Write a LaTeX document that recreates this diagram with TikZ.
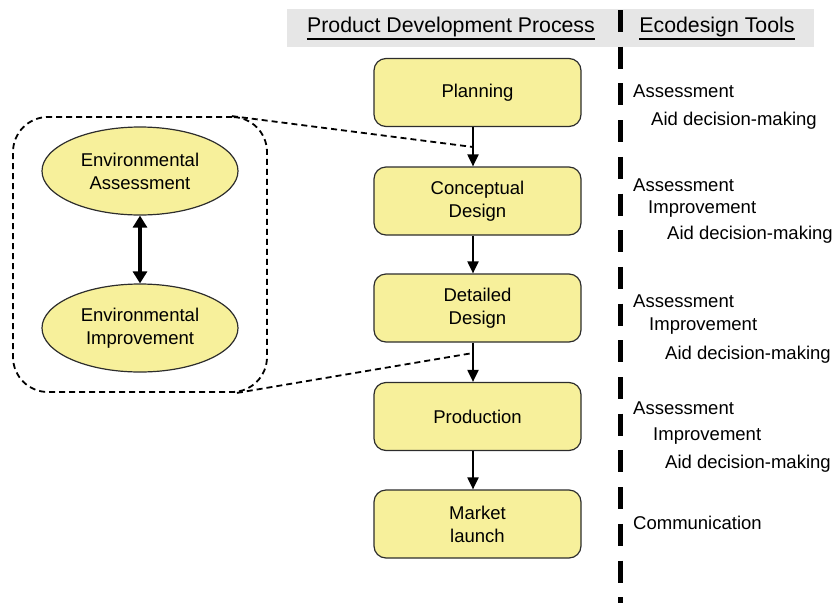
\documentclass[tikz,border=0pt]{standalone}
\usepackage{fontspec}
\setmainfont{Liberation Sans}
\usetikzlibrary{arrows.meta,shapes.geometric}
\definecolor{boxyellow}{RGB}{247,240,155}
\definecolor{bordergray}{RGB}{45,45,45}
\definecolor{headgray}{RGB}{230,230,230}
\newcommand\dgbody{\fontsize{18.5}{23}\selectfont}
\newcommand\dghead{\fontsize{21.3}{24}\selectfont}
\begin{document}
\begin{tikzpicture}[x=1pt,y=-1pt,
  stage/.style={draw=bordergray, line width=1.2pt, fill=boxyellow, rounded corners=12pt,
    minimum width=207pt, minimum height=68pt, align=center, font=\dgbody, inner sep=0pt},
  envnode/.style={ellipse, draw=bordergray, line width=1.2pt, fill=boxyellow,
    minimum width=196pt, minimum height=88pt, inner sep=0pt, align=center, font=\dgbody},
  flow/.style={line width=2pt, -{Triangle[length=12pt,width=11pt]}},
  twoway/.style={line width=4pt, {Triangle[length=12pt,width=14pt]}-{Triangle[length=12pt,width=14pt]}},
  link/.style={line width=1.8pt, dash pattern=on 6pt off 4pt},
  groupbox/.style={draw, line width=1.8pt, dash pattern=on 6pt off 4pt, rounded corners=35pt,
    minimum width=254pt, minimum height=275pt, inner sep=0pt},
  divider/.style={line width=5pt, dash pattern=on 22pt off 14.7pt},
  tool/.style={anchor=base west, inner sep=0pt, font=\dgbody},
  head/.style={anchor=base, inner sep=0pt, font=\dghead},
  uline/.style={line width=1.3pt}
]
\useasboundingbox (0,0) rectangle (833,603);

% header band
\fill[headgray] (287,9) rectangle (814,47);
\node[head] (hp) at (451,32) {Product Development Process};
\node[head] (ht) at (717,32) {Ecodesign Tools};
\draw[uline] ([yshift=-7pt]hp.base west) -- ([yshift=-7pt]hp.base east);
\draw[uline] ([yshift=-7pt]ht.base west) -- ([yshift=-7pt]ht.base east);

% divider
\coordinate (dtop) at (620,10);
\coordinate (dbot) at (620,603);
\draw[divider] (dtop) -- (dbot);

% stages
\node[stage] (s1) at (477.5,92.5) {Planning};
\node[stage] (s2) at (477.5,201) {Conceptual\\Design};
\node[stage] (s3) at (477.5,308) {Detailed\\Design};
\node[stage] (s4) at (477.5,416.5) {Production};
\node[stage] (s5) at (477.5,524) {Market\\launch};

\draw[flow] ([xshift=-4.5pt]s1.south) -- ([xshift=-4.5pt]s2.north);
\draw[flow] ([xshift=-4.5pt]s2.south) -- ([xshift=-4.5pt]s3.north);
\draw[flow] ([xshift=-4.5pt]s3.south) -- ([xshift=-4.5pt]s4.north);
\draw[flow] ([xshift=-4.5pt]s4.south) -- ([xshift=-4.5pt]s5.north);

% environmental group
\node[groupbox] (grp) at (140,254.5) {};
\node[envnode] (ea) at (140,171) {Environmental\\Assessment};
\node[envnode] (ei) at (140,328) {Environmental\\Improvement};
\draw[twoway] (ea.south) -- (ei.north);

\coordinate (c1) at (473,147);
\coordinate (c2) at (473,353);
\draw[link] ([xshift=-36pt]grp.north east) -- (c1);
\draw[link] ([xshift=-31pt]grp.south east) -- (c2);

% tools
\node[tool] (t1a) at (633,97) {Assessment};
\node[tool] (t1b) at (651,125) {Aid decision-making};
\node[tool] (t2a) at (633,191) {Assessment};
\node[tool] (t2b) at (648,213) {Improvement};
\node[tool] (t2c) at (667,239) {Aid decision-making};
\node[tool] (t3a) at (633,307) {Assessment};
\node[tool] (t3b) at (649,330.5) {Improvement};
\node[tool] (t3c) at (665,359) {Aid decision-making};
\node[tool] (t4a) at (633,414) {Assessment};
\node[tool] (t4b) at (653,440) {Improvement};
\node[tool] (t4c) at (665,468) {Aid decision-making};
\node[tool] (t5a) at (633,529) {Communication};
\end{tikzpicture}
\end{document}
